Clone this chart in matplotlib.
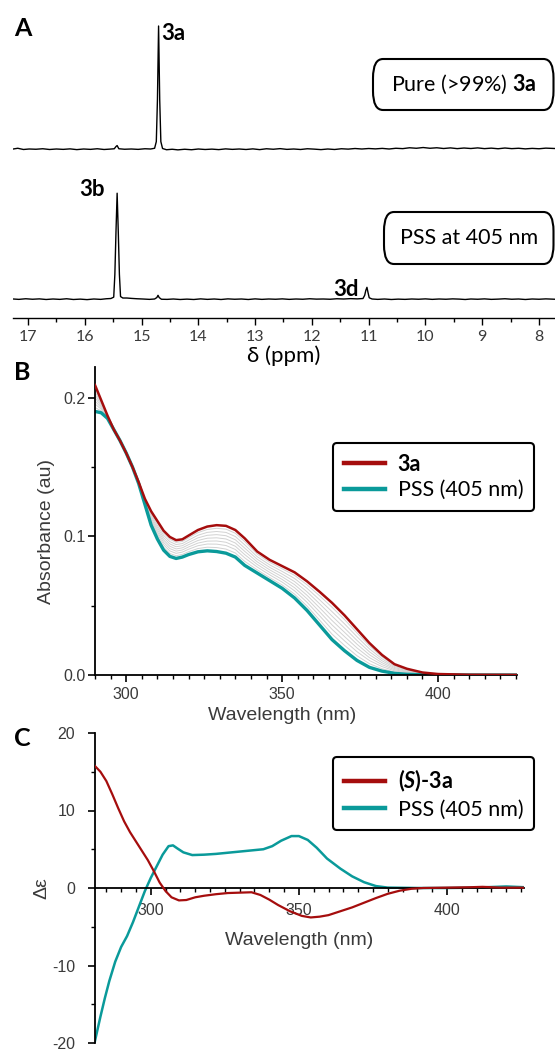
import matplotlib
matplotlib.use('Agg')
import matplotlib.pyplot as plt
from matplotlib.patches import FancyBboxPatch
from matplotlib.ticker import MultipleLocator, FixedLocator, FormatStrFormatter
import numpy as np

W, H = 555, 1051
plt.rcParams['axes.unicode_minus'] = False
plt.rcParams['mathtext.fontset'] = 'custom'
plt.rcParams['mathtext.rm'] = 'Lato'
plt.rcParams['mathtext.it'] = 'Lato:italic'
plt.rcParams['mathtext.bf'] = 'Lato:bold'
try:
    plt.rcParams['mathtext.bfit'] = 'Lato:bold:italic'
except KeyError:
    pass

CAL = ['Lato', 'DejaVu Sans']
ARIAL = ['Liberation Sans', 'DejaVu Sans']
RED = '#a50d0d'
TEAL = '#0a9a9a'
TXT = '#3a3a3a'

# ---------------- Panel A data: 1H NMR (ppm, normalised intensity) -------------
nmr_pure = [
    (17.26, 0.000), (17.18, 0.006), (17.08, -0.004), (16.98, 0.000), (16.86, -0.002),
    (16.74, 0.002), (16.62, -0.004), (16.50, 0.000), (16.38, -0.003), (16.26, 0.001),
    (16.14, -0.005), (16.02, 0.000), (15.90, -0.003), (15.78, 0.002), (15.66, -0.004),
    (15.56, -0.001), (15.48, 0.002), (15.45, 0.020), (15.43, 0.028), (15.40, 0.002),
    (15.30, -0.002), (15.18, 0.000), (15.06, -0.003), (14.94, 0.002), (14.84, 0.000),
    (14.77, 0.006), (14.74, 0.060), (14.72, 0.400), (14.70, 1.000), (14.68, 0.400),
    (14.66, 0.060), (14.63, 0.004), (14.56, -0.006), (14.46, -0.002), (14.36, -0.007),
    (14.24, -0.002), (14.12, -0.006), (14.00, 0.000), (13.88, -0.004), (13.76, -0.001),
    (13.64, -0.005), (13.52, 0.001), (13.40, -0.003), (13.28, 0.000), (13.16, -0.004),
    (13.04, 0.001), (12.92, -0.005), (12.80, 0.002), (12.68, -0.002), (12.56, 0.003),
    (12.44, -0.003), (12.32, 0.000), (12.20, -0.004), (12.08, 0.002), (11.96, -0.001),
    (11.84, -0.005), (11.72, 0.000), (11.60, -0.004), (11.48, 0.002), (11.36, -0.001),
    (11.24, 0.004), (11.12, 0.000), (11.00, 0.004), (10.88, 0.001), (10.76, 0.005),
    (10.64, 0.000), (10.52, 0.006), (10.40, 0.003), (10.28, 0.010), (10.16, 0.006),
    (10.04, 0.012), (9.92, 0.006), (9.80, 0.010), (9.68, 0.004), (9.56, 0.009),
    (9.44, 0.003), (9.32, 0.008), (9.20, 0.004), (9.08, 0.009), (8.96, 0.003),
    (8.84, 0.007), (8.72, 0.002), (8.60, 0.008), (8.48, 0.003), (8.36, 0.006),
    (8.24, 0.001), (8.12, 0.005), (8.00, 0.002), (7.88, 0.007), (7.72, 0.004),
]
nmr_pss = [
    (17.26, 0.000), (17.16, -0.003), (17.04, 0.002), (16.92, -0.002), (16.80, 0.001),
    (16.68, -0.004), (16.56, 0.000), (16.44, -0.003), (16.32, 0.002), (16.20, -0.004),
    (16.08, -0.001), (15.96, -0.005), (15.84, 0.000), (15.72, -0.003), (15.62, 0.002),
    (15.54, 0.004), (15.49, 0.015), (15.47, 0.200), (15.45, 0.550), (15.43, 0.860),
    (15.41, 0.550), (15.39, 0.200), (15.37, 0.020), (15.33, 0.008), (15.26, 0.008),
    (15.18, 0.005), (15.08, 0.002), (14.98, 0.000), (14.86, -0.003), (14.77, 0.000),
    (14.73, 0.012), (14.71, 0.030), (14.69, 0.012), (14.65, -0.002), (14.55, -0.003),
    (14.44, 0.000), (14.32, -0.004), (14.20, -0.001), (14.08, -0.004), (13.96, 0.001),
    (13.84, -0.003), (13.72, 0.000), (13.60, -0.004), (13.48, 0.001), (13.36, -0.002),
    (13.24, 0.000), (13.12, -0.004), (13.00, 0.001), (12.88, -0.003), (12.76, 0.000),
    (12.64, -0.002), (12.52, 0.001), (12.40, -0.003), (12.28, 0.000), (12.16, -0.002),
    (12.04, 0.002), (11.92, -0.001), (11.80, 0.000), (11.68, -0.002), (11.56, 0.002),
    (11.44, 0.000), (11.32, 0.003), (11.20, 0.001), (11.10, 0.004), (11.07, 0.030),
    (11.05, 0.070), (11.03, 0.095), (11.01, 0.050), (10.99, 0.010), (10.94, 0.000),
    (10.84, -0.003), (10.72, 0.000), (10.60, -0.004), (10.48, -0.001), (10.36, -0.003),
    (10.24, 0.000), (10.12, -0.002), (10.00, 0.001), (9.88, -0.003), (9.76, 0.000),
    (9.64, -0.002), (9.52, 0.001), (9.40, -0.001), (9.30, -0.004), (9.20, 0.000),
    (9.08, -0.002), (8.96, 0.001), (8.84, -0.003), (8.72, -0.001), (8.60, 0.002),
    (8.48, -0.002), (8.36, 0.000), (8.24, -0.004), (8.12, 0.000), (8.00, -0.002),
    (7.88, 0.001), (7.72, -0.002),
]

# ---------------- Panel B data: UV-vis absorbance --------------------------------
uv_nm = [290, 292, 294, 296, 298, 300, 302, 304, 306, 308, 310, 312, 314, 316, 318,
         320, 323, 326, 329, 332, 335, 338, 342, 346, 350, 354, 358, 362, 366, 370,
         374, 378, 382, 386, 390, 395, 400, 410, 425]
abs_3a = [0.209, 0.198, 0.187, 0.177, 0.169, 0.160, 0.150, 0.139, 0.127, 0.118,
          0.111, 0.104, 0.0995, 0.0972, 0.0978, 0.1005, 0.1045, 0.1070, 0.1080,
          0.1075, 0.1045, 0.0985, 0.0890, 0.0830, 0.0785, 0.0740, 0.0675, 0.0600,
          0.0520, 0.0430, 0.0330, 0.0230, 0.0145, 0.0078, 0.0045, 0.0018, 0.0007,
          0.0002, 0.0001]
abs_pss = [0.190, 0.189, 0.185, 0.177, 0.169, 0.160, 0.150, 0.138, 0.123, 0.108,
           0.098, 0.090, 0.0855, 0.0840, 0.0850, 0.0868, 0.0888, 0.0895, 0.0890,
           0.0878, 0.0850, 0.0790, 0.0735, 0.0680, 0.0625, 0.0555, 0.0465, 0.0360,
           0.0255, 0.0175, 0.0105, 0.0055, 0.0028, 0.0012, 0.0005, 0.0002, 0.0001,
           0.0000, 0.0000]
# photostationary conversion levels of the intermediate (grey) spectra
conversion = [0.12, 0.24, 0.36, 0.48, 0.60, 0.72, 0.85]

# ---------------- Panel C data: CD spectra --------------------------------------
cd_nm_3a = [281, 283, 285, 287, 289, 291, 293, 295, 297, 299, 301, 303, 305, 307,
            309.5, 312, 315, 318, 322, 326, 330, 334, 337, 340, 343, 347, 351, 354,
            357, 360, 364, 368, 372, 376, 380, 384, 388, 392, 400, 408, 412, 418, 426]
cd_3a = [15.8, 15.0, 13.8, 12.1, 10.3, 8.6, 7.2, 6.0, 4.8, 3.6, 2.2, 0.7, -0.4, -1.2,
         -1.6, -1.55, -1.2, -1.0, -0.8, -0.65, -0.6, -0.55, -0.9, -1.5, -2.2, -3.0,
         -3.6, -3.8, -3.7, -3.5, -3.0, -2.5, -1.9, -1.3, -0.75, -0.35, -0.1, 0.0,
         0.05, 0.1, 0.15, 0.05, 0.05]
cd_nm_pss = [281, 282, 283, 284.5, 286, 288, 290, 292, 294, 296, 298, 300, 302, 304,
             306, 307.5, 309, 311, 314, 318, 322, 326, 330, 334, 338, 341, 344, 347.5,
             350, 353, 356, 359.5, 364, 368, 372, 376, 380, 390, 400, 410, 420, 426]
cd_pss = [-20.0, -18.3, -16.6, -14.2, -12.0, -9.5, -7.6, -6.2, -4.4, -2.4, -0.4, 1.3,
          2.8, 4.3, 5.4, 5.5, 5.1, 4.6, 4.25, 4.3, 4.4, 4.55, 4.7, 4.85, 5.0, 5.4, 6.1,
          6.7, 6.7, 6.2, 5.2, 3.8, 2.5, 1.5, 0.75, 0.25, 0.05, 0.0, 0.0, 0.05, 0.2, 0.1]

# ---------------------------------------------------------------------------------
fig = plt.figure(figsize=(W / 100, H / 100), dpi=100)


def rect(l, t, r, b):
    return [l / W, 1 - b / H, (r - l) / W, (b - t) / H]


def fx(x):
    return x / W


def fy(y):
    return 1 - y / H


# ------------------------------- Panel A ----------------------------------------
axA = fig.add_axes(rect(13, 10, 555, 318))
axA.patch.set_alpha(0)
ppm1, int1 = zip(*nmr_pure)
ppm2, int2 = zip(*nmr_pss)
top_off, bot_off = 169 / 123, 19 / 123
axA.plot(ppm1, np.array(int1) + top_off, color='k', lw=1.0)
axA.plot(ppm2, np.array(int2) + bot_off, color='k', lw=1.0)
axA.set_xlim(17.264, 7.718)
axA.set_ylim(0, 308 / 123)
for s in ['top', 'right', 'left']:
    axA.spines[s].set_visible(False)
axA.spines['bottom'].set_linewidth(1.0)
axA.set_yticks([])
axA.xaxis.set_major_locator(MultipleLocator(1))
axA.xaxis.set_minor_locator(MultipleLocator(0.5))
axA.tick_params(axis='x', which='major', length=5, width=1, direction='out',
                labelsize=11.5, labelcolor=TXT, pad=4)
axA.tick_params(axis='x', which='minor', length=3, width=1, direction='out')
for lab in axA.get_xticklabels():
    lab.set_fontfamily(CAL)
axA.set_xlabel('δ (ppm)', fontsize=16, family=CAL, labelpad=1)

fig.text(fx(161), fy(34), '3a', fontsize=16, fontweight='bold', family=CAL,
         ha='left', va='center')
fig.text(fx(105), fy(190), '3b', fontsize=16, fontweight='bold', family=CAL,
         ha='right', va='center')
fig.text(fx(359), fy(289), '3d', fontsize=16, fontweight='bold', family=CAL,
         ha='right', va='center')

for (l, t, r, b, txt) in [(373, 59, 553.5, 110, r'Pure (>99%) $\mathbf{3a}$'),
                          (384, 212, 553.5, 264, 'PSS at 405 nm')]:
    box = FancyBboxPatch((fx(l), fy(b)), fx(r - l), (b - t) / H,
                         boxstyle='round,pad=0,rounding_size=0.018',
                         transform=fig.transFigure, fc='white', ec='k', lw=1.5)
    fig.add_artist(box)
    fig.text(fx((l + r) / 2), fy((t + b) / 2), txt, fontsize=15.5, family=CAL,
             ha='center', va='center')

fig.text(fx(14), fy(28), 'A', fontsize=18, fontweight='bold', family=CAL,
         ha='left', va='center')
fig.text(fx(14), fy(372), 'B', fontsize=18, fontweight='bold', family=CAL,
         ha='left', va='center')
fig.text(fx(14), fy(739), 'C', fontsize=18, fontweight='bold', family=CAL,
         ha='left', va='center')


def style_uv(ax):
    for s in ['top', 'right']:
        ax.spines[s].set_visible(False)
    for s in ['left', 'bottom']:
        ax.spines[s].set_linewidth(1.3)
    ax.tick_params(which='major', length=5, width=1.2, direction='out',
                   labelsize=11.5, labelcolor=TXT)
    ax.tick_params(which='minor', length=3, width=1.0, direction='out')
    for lab in ax.get_xticklabels() + ax.get_yticklabels():
        lab.set_fontfamily(ARIAL)


# ------------------------------- Panel B ----------------------------------------
axB = fig.add_axes(rect(95, 367, 517, 675))
a3a = np.array(abs_3a)
apss = np.array(abs_pss)
for f in conversion:
    axB.plot(uv_nm, (1 - f) * a3a + f * apss, color='#d2d2d2', lw=0.7, zorder=1)
axB.plot(uv_nm, abs_3a, color=RED, lw=1.8, label='3a', zorder=3)
axB.plot(uv_nm, abs_pss, color=TEAL, lw=2.4, label='PSS (405 nm)', zorder=2)
axB.set_xlim(290, 425.3)
axB.set_ylim(0, 0.222)
axB.xaxis.set_major_locator(FixedLocator([300, 350, 400]))
axB.xaxis.set_minor_locator(MultipleLocator(5))
axB.yaxis.set_major_locator(FixedLocator([0.0, 0.1, 0.2]))
axB.yaxis.set_major_formatter(FormatStrFormatter('%.1f'))
axB.yaxis.set_minor_locator(MultipleLocator(0.05))
style_uv(axB)
axB.tick_params(axis='y', which='major', pad=2)
axB.set_xlabel('Wavelength (nm)', fontsize=14, family=ARIAL, color=TXT, labelpad=4)
axB.set_ylabel('Absorbance (au)', fontsize=14, family=ARIAL, color=TXT, labelpad=6)
axB.xaxis.label.set_x((350 - 290) / (425.3 - 290))
axB.yaxis.label.set_y((675 - 531) / 308)

legB = axB.legend(loc='upper left', bbox_to_anchor=(fx(333), fy(443)),
                  bbox_transform=fig.transFigure, prop={'family': CAL, 'size': 15.5},
                  frameon=True, fancybox=True, edgecolor='k', framealpha=1,
                  handlelength=1.9, handletextpad=0.6, borderpad=0.5,
                  labelspacing=0.25, borderaxespad=0)
legB.get_frame().set_linewidth(1.5)
legB.get_texts()[0].set_fontweight('bold')
for ln in legB.get_lines():
    ln.set_linewidth(3.2)

# ------------------------------- Panel C ----------------------------------------
axC = fig.add_axes(rect(94.5, 733, 524, 1043))
axC.plot(cd_nm_3a, cd_3a, color=RED, lw=1.6, label=r'($\mathbfit{S}$)-3a', zorder=3)
axC.plot(cd_nm_pss, cd_pss, color=TEAL, lw=1.8, label='PSS (405 nm)', zorder=2)
axC.set_xlim(281, 426)
axC.set_ylim(-20, 20)
axC.spines['bottom'].set_position(('data', 0))
axC.xaxis.set_major_locator(FixedLocator([300, 350, 400]))
axC.xaxis.set_minor_locator(MultipleLocator(5))
axC.yaxis.set_major_locator(FixedLocator([-20, -10, 0, 10, 20]))
axC.yaxis.set_minor_locator(MultipleLocator(5))
style_uv(axC)
axC.tick_params(axis='x', which='major', pad=6)
axC.tick_params(axis='y', which='major', pad=9)
axC.set_xlabel('Wavelength (nm)', fontsize=14, family=ARIAL, color=TXT, labelpad=10)
axC.set_ylabel('Δε', fontsize=14, family=ARIAL, color=TXT, labelpad=1)
axC.xaxis.label.set_x((350 - 281) / (426 - 281))

legC = axC.legend(loc='upper left', bbox_to_anchor=(fx(333), fy(757)),
                  bbox_transform=fig.transFigure, prop={'family': CAL, 'size': 15.5},
                  frameon=True, fancybox=True, edgecolor='k', framealpha=1,
                  handlelength=1.9, handletextpad=0.6, borderpad=0.5,
                  labelspacing=0.25, borderaxespad=0)
legC.get_frame().set_linewidth(1.5)
legC.get_texts()[0].set_fontweight('bold')
for ln in legC.get_lines():
    ln.set_linewidth(3.2)

fig.savefig('out.png', dpi=100)
